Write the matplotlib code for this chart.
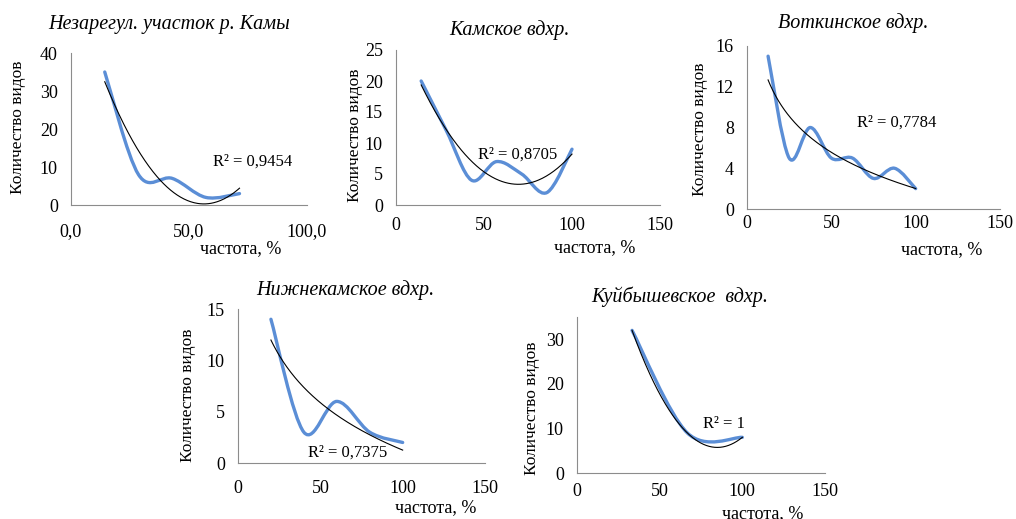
import numpy as np
import matplotlib
matplotlib.use("Agg")
import matplotlib.pyplot as plt
from matplotlib.path import Path
from matplotlib.patches import PathPatch

plt.rcParams['font.family'] = ['Liberation Serif', 'DejaVu Serif']

W, H = 1016, 519

# data
titles = ['Незарегул. участок р. Камы', 'Камское вдхр.', 'Воткинское вдхр.',
          'Нижнекамское вдхр.', 'Куйбышевское  вдхр.']

x_kama = [14.3, 28.6, 42.9, 57.1, 71.4]
y_kama = [35, 8, 7, 2, 3]

x_kamskoe = [14.3, 28.6, 42.9, 57.1, 71.4, 85.7, 100]
y_kamskoe = [20, 12, 4, 7, 5, 2, 9]

x_votk = [12.5, 25, 37.5, 50, 62.5, 75, 87.5, 100]
y_votk = [15, 5, 8, 5, 5, 3, 4, 2]

x_nizh = [20, 40, 60, 80, 100]
y_nizh = [14, 3, 6, 3, 2]

x_kuib = [33.3, 66.7, 100]
y_kuib = [32, 9, 8]

r2_labels = ['R² = 0,9454', 'R² = 0,8705', 'R² = 0,7784', 'R² = 0,7375', 'R² = 1']
trend_kind = ['poly', 'poly', 'log', 'log', 'poly']

xlims = [100, 150, 150, 150, 150]
ylims = [40, 25, 16, 15, 35]
yticks = [[0, 10, 20, 30, 40], [0, 5, 10, 15, 20, 25], [0, 4, 8, 12, 16],
          [0, 5, 10, 15], [0, 10, 20, 30]]
xticks = [[0, 50, 100]] + [[0, 50, 100, 150]] * 4
xticklabels = [['0,0', '50,0', '100,0']] + [['0', '50', '100', '150']] * 4

# layout in pixels: axes box (left, right, top, bottom) and text anchors
boxes = [(71, 307, 53, 205), (396, 660, 50, 205), (747, 1000, 46, 209),
         (238, 485, 309, 463), (577, 825, 317, 473)]
xtick_gap = [18, 12, 6, 17, 10]
title_pos = [(169, 25), (509, 30), (853, 23), (345, 290), (680, 297)]
xlabel_pos = [(241, 249), (595, 248), (942, 250), (436, 508), (763, 514)]
ylabel_pos = [(18, 127), (355, 135), (700, 129), (188, 395), (532, 408)]
r2_pos = [(213, 162), (478, 155), (857, 123), (308, 453), (703, 424)]

blue = '#5B8ED6'
axis_gray = '#8C8C8C'


def smooth_path(xs, ys, t=1 / 6):
    # Bezier smoothing like the spreadsheet "smooth line" option
    pts = np.column_stack([xs, ys]).astype(float)
    n = len(pts)
    verts = [pts[0]]
    codes = [Path.MOVETO]
    for i in range(n - 1):
        p_prev = pts[i - 1] if i > 0 else pts[i]
        p_next2 = pts[i + 2] if i + 2 < n else pts[i + 1]
        c1 = pts[i] + (pts[i + 1] - p_prev) * t
        c2 = pts[i + 1] - (p_next2 - pts[i]) * t
        verts += [c1, c2, pts[i + 1]]
        codes += [Path.CURVE4] * 3
    return Path(verts, codes)


def fx(x):
    return x / W


def fy(y):
    return 1 - y / H


fig = plt.figure(figsize=(W / 100, H / 100), dpi=100)

series = [(x_kama, y_kama), (x_kamskoe, y_kamskoe), (x_votk, y_votk),
          (x_nizh, y_nizh), (x_kuib, y_kuib)]

for i, (xs, ys) in enumerate(series):
    l, r, t, b = boxes[i]
    ax = fig.add_axes([fx(l), fy(b), (r - l) / W, (b - t) / H])
    xs = np.array(xs, dtype=float)
    ys = np.array(ys, dtype=float)

    ax.add_patch(PathPatch(smooth_path(xs, ys), fill=False, edgecolor=blue,
                           lw=2.4, capstyle='round', joinstyle='round', zorder=2))

    xx = np.linspace(xs.min(), xs.max(), 200)
    if trend_kind[i] == 'poly':
        yy = np.polyval(np.polyfit(xs, ys, 2), xx)
    else:
        yy = np.polyval(np.polyfit(np.log(xs), ys, 1), np.log(xx))
    ax.plot(xx, yy, color='black', lw=0.8, zorder=3)

    ax.set_xlim(0, xlims[i])
    ax.set_ylim(0, ylims[i])
    ax.set_xticks(xticks[i])
    ax.set_xticklabels(xticklabels[i])
    ax.set_yticks(yticks[i])
    ax.tick_params(length=0, labelsize=13)
    ax.tick_params(axis='y', pad=9.5)
    ax.tick_params(axis='x', pad=xtick_gap[i] * 0.72)
    for s in ['top', 'right']:
        ax.spines[s].set_visible(False)
    for s in ['left', 'bottom']:
        ax.spines[s].set_color(axis_gray)
        ax.spines[s].set_linewidth(0.8)
    ax.patch.set_alpha(0)

    fig.text(fx(title_pos[i][0]), fy(title_pos[i][1]), titles[i], style='italic',
             fontsize=14.5, ha='center', va='center')
    fig.text(fx(xlabel_pos[i][0]), fy(xlabel_pos[i][1]), 'частота, %',
             fontsize=13, ha='center', va='center')
    fig.text(fx(ylabel_pos[i][0]), fy(ylabel_pos[i][1]), 'Количество видов',
             fontsize=12.5, ha='center', va='center', rotation=90)
    fig.text(fx(r2_pos[i][0]), fy(r2_pos[i][1]), r2_labels[i],
             fontsize=12, ha='left', va='center')

fig.savefig('out.png', dpi=100)
